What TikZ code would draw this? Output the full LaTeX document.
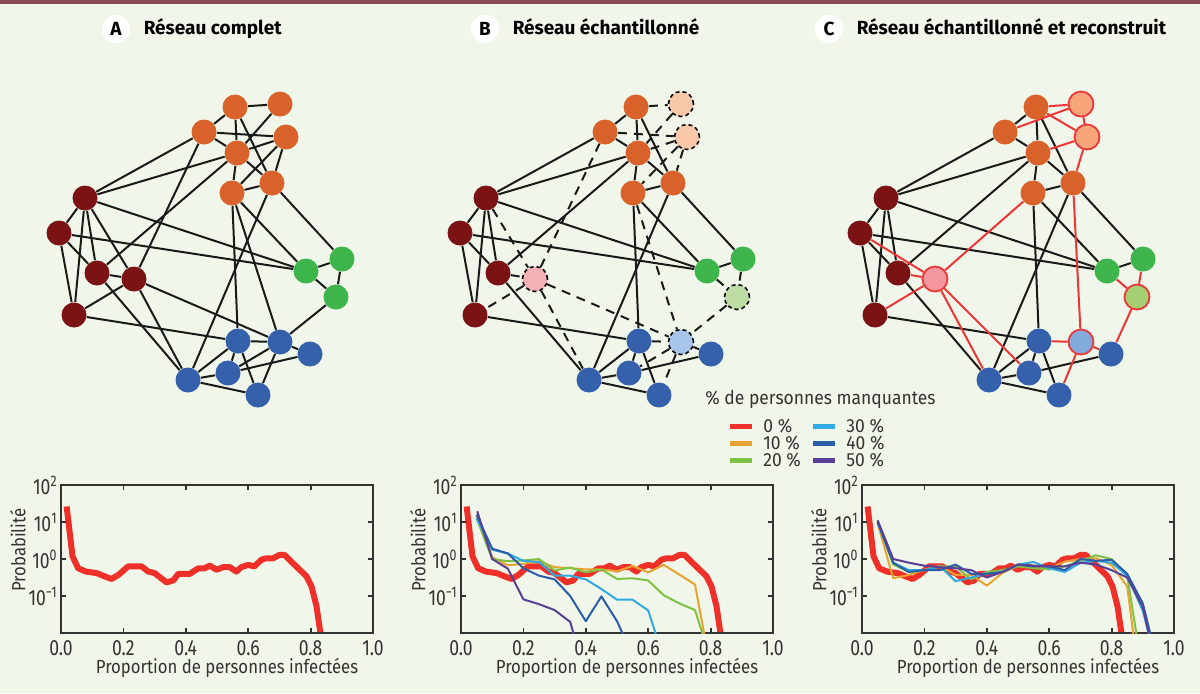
\documentclass[tikz,border=0pt]{standalone}
\usepackage{fontspec}
\setmainfont{Fira Sans}
\newfontfamily\narrowfont[FakeStretch=0.88]{Fira Sans}
\newfontfamily\ticksfont[FakeStretch=0.8]{Fira Sans}
\newfontfamily\legendfont[FakeStretch=0.92]{Fira Sans}
\usetikzlibrary{backgrounds, positioning}

\definecolor{bgcol}{HTML}{F0F7EA}
\definecolor{barcol}{HTML}{8C4A57}
\definecolor{inkc}{HTML}{1A1A1A}
\definecolor{axisc}{HTML}{333333}
\definecolor{orng}{HTML}{D9622B}
\definecolor{dred}{HTML}{7B1315}
\definecolor{grn}{HTML}{3EB54B}
\definecolor{blu}{HTML}{3460AC}
\definecolor{peachB}{HTML}{F9C8A8}
\definecolor{pinkB}{HTML}{F5B0B6}
\definecolor{lgrnB}{HTML}{BEDDA4}
\definecolor{lbluB}{HTML}{A6C5E8}
\definecolor{peachC}{HTML}{F8A57C}
\definecolor{pinkC}{HTML}{F4969D}
\definecolor{lgrnC}{HTML}{A4CF72}
\definecolor{lbluC}{HTML}{82ABDD}
\definecolor{redl}{HTML}{EE3535}
\definecolor{cz}{HTML}{EE3028}
\definecolor{cten}{HTML}{E9A22F}
\definecolor{ctwenty}{HTML}{7DC242}
\definecolor{cthirty}{HTML}{33A9E1}
\definecolor{cforty}{HTML}{2B5DA9}
\definecolor{cfifty}{HTML}{5A3F97}

\begin{document}
\begin{tikzpicture}
		[x=0.5pt, y=-0.5pt,
	dot/.style={circle, minimum size=12.5pt, inner sep=0pt},
	gone/.style={draw=black, line width=0.8pt, dash pattern=on 2pt off 1.5pt},
	found/.style={draw=redl, line width=0.9pt},
	edge/.style={line width=1pt, draw=inkc},
	lost/.style={edge, dash pattern=on 4.5pt off 3.5pt},
	rebuilt/.style={line width=1pt, draw=redl},
	tag/.style={circle, fill=white, minimum size=14pt, inner sep=0pt, font=\bfseries\fontsize{9.5}{11}\selectfont},
	heading/.style={inner sep=0pt, text height=7pt, text depth=2pt, font=\bfseries\fontsize{9.5}{11}\selectfont},
	frame/.style={line width=0.9pt, draw=axisc},
	ticklab/.style={inner sep=0pt, text=axisc, font=\ticksfont\fontsize{11}{12}\selectfont},
	axlab/.style={inner sep=0pt, text=axisc, font=\narrowfont\fontsize{9.5}{11}\selectfont},
	legtext/.style={inner sep=0pt, text=axisc, font=\legendfont\fontsize{9.5}{11}\selectfont},
	c0/.style={line width=3pt, draw=cz, line join=round},
	c1/.style={line width=1pt, draw=cten, line join=round},
	c2/.style={line width=1pt, draw=ctwenty, line join=round},
	c3/.style={line width=1pt, draw=cthirty, line join=round},
	c4/.style={line width=1pt, draw=cforty, line join=round},
	c5/.style={line width=1pt, draw=cfifty, line join=round}
	]
		\useasboundingbox (0,0) rectangle (1200,693);
		\begin{scope}[on background layer]
			\fill[bgcol] (0,0) rectangle (1200,693);
			\fill[barcol] (0,0) rectangle (1200,4);
		\end{scope}

		% titles
		\node[tag] (tagA) at (116,29) {A};
		\node[heading, right=6.5pt of tagA] (headA) {Réseau complet};
		\node[tag] (tagB) at (485,29) {B};
		\node[heading, right=6.5pt of tagB] (headB) {Réseau échantillonné};
		\node[tag] (tagC) at (829,29) {C};
		\node[heading, right=6.5pt of tagC] (headC) {Réseau échantillonné et reconstruit};

		% people kept in every network
		\foreach \net/\dx in {A/0, B/401, C/801}
			\foreach \n/\x/\y/\c in {o1/235/107/orng, o3/204/132/orng, o5/237/153/orng, o6/232/193/orng, o7/272/183/orng,
				r1/85/198/dred, r2/59/233/dred, r3/97/273/dred, r5/74/315/dred,
				g1/306/271/grn, g2/342/259/grn,
				b1/238/341/blu, b3/310/354/blu, b4/228/373/blu, b5/188/380/blu, b6/258/395/blu}
				\node[dot, fill=\c] (\net\n) at (\x+\dx,\y) {};

		% people missing in B, rebuilt in C
		\foreach \n/\x/\y/\c/\pale/\soft in {o2/280/104/orng/peachB/peachC, o4/286/137/orng/peachB/peachC,
			r4/134/279/dred/pinkB/pinkC, g3/336/297/grn/lgrnB/lgrnC, b2/280/342/blu/lbluB/lbluC} {
			\node[dot, fill=\c] (A\n) at (\x,\y) {};
			\node[dot, gone, fill=\pale] (B\n) at (\x+401,\y) {};
			\node[dot, found, fill=\soft] (C\n) at (\x+801,\y) {};
		}

		\begin{scope}[on background layer]
			\foreach \net in {A,B,C}
				\foreach \u/\v in {o1/o3, o1/o5, o1/o7, o3/o5, o5/o7, o5/o6, o6/o7, r1/o3, r1/o5, r1/r2,
					r1/r3, r1/r5, r1/g1, r2/r3, r2/r5, r2/g1, r3/o5, r3/b5, r5/b1, o6/b1,
					o6/g1, o7/g2, o7/b5, g1/g2, b1/b4, b1/b5, b1/b6, b3/b4, b4/b5, b5/b6}
					\draw[edge] (\net\u) -- (\net\v);
			\foreach \u/\v in {o1/o2, o2/o5, o3/o4, o4/o5, o4/o6, o4/o7, r1/r4, r3/r4, r4/r5, r4/o3,
				r4/b2, r4/b5, o6/b2, g2/g3, g1/g3, g3/b2, b1/b2, b2/b3, b2/b4, b2/b6} {
				\draw[edge] (A\u) -- (A\v);
				\draw[lost] (B\u) -- (B\v);
			}
			\foreach \u/\v in {o1/o2, o2/o3, o1/o4, o2/o4, o4/o5, o4/o7, o7/b2, o6/r4, r2/r4, r3/r4,
				r5/r4, r4/b5, r4/b4, b1/b2, b2/b3, b2/b6, g1/g3, g2/g3, g3/b3}
				\draw[rebuilt] (C\u) -- (C\v);
		\end{scope}

		% legend
		\node[legtext, anchor=west] (legtitle) at (705,399) {\% de personnes manquantes};
		\foreach \c/\lab/\x/\y [count=\i] in {c0/0/730/426, c1/10/730/443, c2/20/730/460,
			c3/30/813/426, c4/40/813/443, c5/50/813/460} {
			\draw[\c, line width=2.5pt, line join=miter] (\x,\y) -- (\x+22,\y);
			\node[legtext, anchor=west] (leg\i) at (\x+33,\y) {\lab~\%};
		}

		% plots
		\foreach \pl/\px in {A/61, B/461, C/862} {
			\begin{scope}[shift={(\px,559)}, x=156pt, y=18.5pt]
				\begin{scope}
					\clip (0,-2) rectangle (1,2);
					\draw[c0] plot coordinates {(0.018,1.42) (0.037,0.07) (0.055,-0.25) (0.08,-0.34) (0.114,-0.38)
						(0.14,-0.47) (0.162,-0.54) (0.184,-0.43) (0.215,-0.2) (0.258,-0.2) (0.28,-0.34) (0.30,-0.38)
						(0.338,-0.63) (0.36,-0.58) (0.376,-0.40) (0.413,-0.40) (0.44,-0.25) (0.46,-0.25) (0.477,-0.18)
						(0.498,-0.29) (0.52,-0.22) (0.541,-0.22) (0.562,-0.34) (0.578,-0.22) (0.60,-0.16) (0.62,-0.2)
						(0.642,-0.02) (0.658,0.02) (0.68,0.02) (0.70,0.11) (0.717,0.11) (0.738,-0.07) (0.765,-0.29)
						(0.787,-0.47) (0.803,-0.74) (0.819,-1.28) (0.835,-2.2)};
				\end{scope}
				\draw[frame] (0,-2) rectangle (1,2);
				\foreach \t in {0.2,0.4,0.6,0.8} {
					\draw[frame] (\t,-2) -- ++(0pt,2.5pt);
					\draw[frame] (\t,2) -- ++(0pt,-2.5pt);
				}
				\foreach \e in {-1,0,1} {
					\draw[frame] (0,\e) -- ++(2.5pt,0pt);
					\draw[frame] (1,\e) -- ++(-2.5pt,0pt);
				}
				\foreach \t [count=\i] in {0.0,0.2,0.4,0.6,0.8,1.0}
					\node[ticklab, anchor=north, yshift=-3.5pt] (\pl xt\i) at (\t,-2) {\t};
				\foreach \e/\s [count=\i] in {2/2, 1/1, 0/0, -1/−1}
					\node[ticklab, anchor=east, xshift=-1.5pt] (\pl yt\i) at (0,\e) {10\textsuperscript{\s}};
				\node[axlab] (\pl xlab) at (0.532,-2.95) {Proportion de personnes infectées};
				\node[axlab, rotate=90] (\pl ylab) at (-0.138,0.24) {Probabilité};
			\end{scope}
		}

		% B: sampled networks
		\begin{scope}[shift={(461,559)}, x=156pt, y=18.5pt]
			\clip (0,-2) rectangle (1,2);
			\draw[c1] plot coordinates {(0.05,1.15) (0.1,0.05) (0.15,-0.17) (0.2,-0.13) (0.25,-0.06) (0.3,-0.22) (0.35,-0.25)
				(0.4,-0.28) (0.45,-0.28) (0.5,-0.33) (0.55,-0.19) (0.6,-0.36) (0.65,-0.16) (0.7,-0.42) (0.75,-0.69) (0.78,-2.05)};
			\draw[c2] plot coordinates {(0.05,1.1) (0.1,0.0) (0.15,-0.06) (0.2,-0.04) (0.25,0.0) (0.3,-0.31) (0.35,-0.23)
				(0.4,-0.36) (0.45,-0.28) (0.5,-0.54) (0.55,-0.52) (0.6,-0.58) (0.65,-0.98) (0.7,-1.2) (0.75,-1.38) (0.775,-2.05)};
			\draw[c3] plot coordinates {(0.05,1.1) (0.1,0.25) (0.15,0.15) (0.2,-0.05) (0.25,-0.08) (0.3,-0.45) (0.35,-0.45)
				(0.4,-0.55) (0.45,-0.81) (0.5,-1.1) (0.55,-1.1) (0.6,-1.39) (0.625,-2.05)};
			\draw[c4] plot coordinates {(0.05,1.2) (0.1,0.28) (0.15,0.15) (0.2,-0.25) (0.25,-0.45) (0.3,-0.55) (0.35,-1.0)
				(0.4,-1.68) (0.45,-1.01) (0.5,-1.68) (0.52,-2.05)};
			\draw[c5] plot coordinates {(0.052,1.29) (0.1,0.0) (0.15,-0.26) (0.2,-1.09) (0.25,-1.22) (0.3,-1.38) (0.35,-1.7)
				(0.362,-2.05)};
		\end{scope}

		% C: rebuilt networks
		\begin{scope}[shift={(862,559)}, x=156pt, y=18.5pt]
			\clip (0,-2) rectangle (1,2);
			\draw[c1] plot coordinates {(0.05,0.97) (0.1,-0.52) (0.15,-0.43) (0.2,-0.29) (0.25,-0.18) (0.3,-0.43) (0.35,-0.43)
				(0.4,-0.72) (0.45,-0.38) (0.5,-0.18) (0.55,-0.18) (0.6,-0.25) (0.65,-0.07) (0.7,0.0) (0.75,0.02) (0.8,-0.16)
				(0.85,-0.74) (0.87,-2.05)};
			\draw[c2] plot coordinates {(0.05,1.0) (0.1,-0.15) (0.15,-0.35) (0.2,-0.3) (0.25,-0.2) (0.3,-0.2) (0.35,-0.55)
				(0.4,-0.35) (0.45,-0.3) (0.5,-0.2) (0.55,-0.25) (0.6,-0.28) (0.65,-0.2) (0.7,-0.05) (0.75,0.1) (0.8,0.0)
				(0.85,-0.45) (0.88,-2.05)};
			\draw[c3] plot coordinates {(0.05,1.0) (0.1,-0.1) (0.15,-0.3) (0.2,-0.3) (0.25,-0.2) (0.3,-0.6) (0.35,-0.5)
				(0.4,-0.4) (0.45,-0.35) (0.5,-0.15) (0.55,-0.08) (0.6,-0.25) (0.65,-0.35) (0.7,-0.1) (0.75,-0.05) (0.8,-0.1)
				(0.85,-0.45) (0.9,-1.4) (0.92,-2.05)};
			\draw[c4] plot coordinates {(0.05,1.0) (0.1,-0.1) (0.15,-0.35) (0.2,-0.3) (0.25,-0.3) (0.3,-0.15) (0.35,-0.4)
				(0.4,-0.4) (0.45,-0.35) (0.5,-0.15) (0.55,-0.2) (0.6,-0.2) (0.65,-0.3) (0.7,0.0) (0.75,-0.05) (0.8,-0.02)
				(0.85,-0.4) (0.9,-1.2) (0.925,-2.05)};
			\draw[c5] plot coordinates {(0.05,1.05) (0.1,0.0) (0.15,-0.1) (0.2,-0.18) (0.25,-0.22) (0.3,-0.25) (0.35,-0.3)
				(0.4,-0.5) (0.45,-0.35) (0.5,-0.15) (0.55,-0.18) (0.6,-0.2) (0.65,-0.2) (0.7,-0.1) (0.75,-0.15) (0.8,-0.3)
				(0.85,-0.5) (0.9,-1.3) (0.92,-2.05)};
		\end{scope}
	\end{tikzpicture}
\end{document}
